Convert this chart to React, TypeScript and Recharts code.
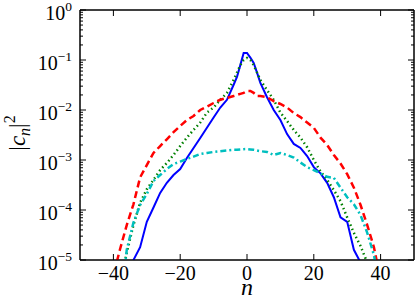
import React from 'react';
import { LineChart, Line, XAxis, YAxis, ReferenceArea } from 'recharts';

// n (mode index)
const nValues = [-42, -40, -38, -36, -34, -32, -30, -28, -26, -24, -22, -20, -18, -16, -14, -12, -10, -8, -6, -4, -3, -2, -1, 0, 1, 2, 3, 4, 6, 8, 10, 12, 14, 16, 18, 20, 22, 24, 26, 28, 30, 32, 34, 36, 38, 40, 42];

// |c_n|^2 series
const blueSolid = [null, null, null, 3.2e-6, 1.0e-5, 1.8e-5, 5.8e-5, 1.12e-4, 2.2e-4, 3.5e-4, 5.0e-4, 6.6e-4, 1.1e-3, 1.74e-3, 2.75e-3, 4.4e-3, 7.1e-3, 1.12e-2, 1.6e-2, 3.2e-2, 4.6e-2, 7.9e-2, 0.138, 0.138, 0.112, 0.087, 0.056, 0.035, 0.018, 0.010, 6.3e-3, 3.3e-3, 2.1e-3, 1.74e-3, 1.2e-3, 7.2e-4, 5.4e-4, 3.5e-4, 1.8e-4, 7.1e-5, 5.8e-5, 1.6e-5, 8.9e-6, 3.2e-6, null, null, null];
const greenDotted = [null, null, 3.2e-6, 1.4e-5, 5.0e-5, 1.4e-4, 2.6e-4, 4.0e-4, 6.3e-4, 8.7e-4, 1.26e-3, 1.9e-3, 2.8e-3, 4.0e-3, 5.6e-3, 8.9e-3, 1.12e-2, 1.6e-2, 2.2e-2, 4.0e-2, 5.6e-2, 7.9e-2, 0.100, 0.110, 0.100, 7.9e-2, 5.6e-2, 4.0e-2, 2.5e-2, 1.6e-2, 8.9e-3, 6.0e-3, 4.0e-3, 2.8e-3, 1.8e-3, 1.0e-3, 5.9e-4, 4.0e-4, 2.5e-4, 1.5e-4, 7.1e-5, 3.5e-5, 1.9e-5, 8.9e-6, 3.2e-6, null, null];
const redDashed = [1.3e-6, 5.0e-6, 1.66e-5, 5.0e-5, 1.3e-4, 4.5e-4, 7.9e-4, 1.38e-3, 1.9e-3, 2.6e-3, 3.6e-3, 4.8e-3, 6.3e-3, 7.6e-3, 1.0e-2, 1.17e-2, 1.38e-2, 1.6e-2, 1.74e-2, 1.9e-2, 2.0e-2, 2.1e-2, 2.2e-2, 2.4e-2, 2.4e-2, 2.2e-2, 1.9e-2, 1.9e-2, 1.8e-2, 1.5e-2, 1.32e-2, 1.12e-2, 8.7e-3, 7.2e-3, 5.6e-3, 4.4e-3, 2.8e-3, 2.0e-3, 1.26e-3, 8.5e-4, 5.2e-4, 2.8e-4, 1.26e-4, 5.0e-5, 1.8e-5, 4.0e-6, null];
const cyanDashDot = [null, null, 1.0e-6, 1.6e-5, 5.6e-5, 1.26e-4, 2.1e-4, 3.8e-4, 5.0e-4, 6.6e-4, 8.3e-4, 9.3e-4, 1.05e-3, 1.17e-3, 1.32e-3, 1.38e-3, 1.45e-3, 1.5e-3, 1.55e-3, 1.6e-3, 1.6e-3, 1.62e-3, 1.65e-3, 1.66e-3, 1.63e-3, 1.6e-3, 1.55e-3, 1.5e-3, 1.45e-3, 1.26e-3, 1.38e-3, 1.26e-3, 1.12e-3, 8.9e-4, 7.2e-4, 6.3e-4, 5.4e-4, 4.6e-4, 4.4e-4, 2.8e-4, 1.8e-4, 1.3e-4, 7.9e-5, 3.5e-5, 1.26e-5, 2.5e-6, null];

// ticks
const xTicks = [-40, -20, 0, 20, 40];
const xTickLabels = ['−40', '−20', '0', '20', '40'];
const yMajorTicks = [1e-5, 1e-4, 1e-3, 1e-2, 1e-1, 1];
const yExponents = ['−5', '−4', '−3', '−2', '−1', '0'];
const minorMantissas = [2, 3, 4, 5, 6, 7, 8, 9];
const minorDecades = [1e-5, 1e-4, 1e-3, 1e-2, 1e-1];

const data = nValues.map((n, i) => ({
  n,
  blue: blueSolid[i],
  green: greenDotted[i],
  red: redDashed[i],
  cyan: cyanDashDot[i],
}));
const minorTicks = minorDecades.flatMap((d) => minorMantissas.map((m) => m * d));
const allYTicks = [...yMajorTicks, ...minorTicks].sort((a, b) => a - b);

const FONT = "Liberation Serif";
const MAJOR = 6;
const MINOR = 3;

const majorIndex = (v: number) =>
  yMajorTicks.findIndex((t) => Math.abs(Math.log10(t) - Math.log10(v)) < 1e-6);

const YTickLeft = (props: any) => {
  const { x, y, payload } = props;
  const idx = majorIndex(payload.value);
  const len = idx >= 0 ? MAJOR : MINOR;
  return (
    <g>
      <line x1={x} x2={x + len} y1={y} y2={y} stroke="#000" strokeWidth={1} />
      {idx >= 0 && (
        <text x={x - 8} y={y + 9.5} textAnchor="end" fontFamily={FONT} style={{ fontFamily: FONT }} fontSize={20} fill="#000">
          10
          <tspan dy={-8.5} fontSize={13.5}>{yExponents[idx]}</tspan>
        </text>
      )}
    </g>
  );
};

const YTickRight = (props: any) => {
  const { x, y, payload } = props;
  const idx = majorIndex(payload.value);
  const len = idx >= 0 ? MAJOR : MINOR;
  return <line x1={x} x2={x - len} y1={y} y2={y} stroke="#000" strokeWidth={1} />;
};

const XTickBottom = (props: any) => {
  const { x, y, payload } = props;
  const idx = xTicks.indexOf(payload.value);
  const label = idx >= 0 ? xTickLabels[idx] : String(payload.value);
  return (
    <g>
      <line x1={x} x2={x} y1={y} y2={y - MAJOR} stroke="#000" strokeWidth={1} />
      <text x={x} y={y + 20} textAnchor="middle" fontFamily={FONT} style={{ fontFamily: FONT }} fontSize={20} fill="#000">
        {label}
      </text>
    </g>
  );
};

const XTickTop = (props: any) => {
  const { x, y } = props;
  return <line x1={x} x2={x} y1={y} y2={y + MAJOR} stroke="#000" strokeWidth={1} />;
};

const XLabel = (props: any) => {
  const vb = props.viewBox || {};
  const cx = vb.x + vb.width / 2;
  return (
    <text x={cx} y={295} textAnchor="middle" fontFamily={FONT} fontStyle="italic" style={{ fontFamily: FONT, fontStyle: 'italic' }} fontSize={24} fill="#000">
      n
    </text>
  );
};

const YLabel = () => {
  const cx = 25;
  const cy = 133;
  return (
    <text
      x={cx}
      y={cy}
      transform={`rotate(-90, ${cx}, ${cy})`}
      textAnchor="middle"
      fontFamily={FONT}
      style={{ fontFamily: FONT }}
      fontSize={23}
      fill="#000"
    >
      |<tspan fontStyle="italic">c</tspan>
      <tspan fontStyle="italic" fontSize={16} dy={5}>n</tspan>
      <tspan dy={-5}>|</tspan>
      <tspan fontSize={16} dy={-10}>2</tspan>
    </text>
  );
};

export default function App() {
  return (
    <div style={{ position: 'absolute', left: 0, top: 0, background: '#fff' }}>
      <LineChart
        width={415}
        height={299}
        data={data}
        margin={{ top: 9, right: 0, bottom: 0, left: 10 }}
      >
        <XAxis
          xAxisId="main"
          dataKey="n"
          type="number"
          domain={[-50, 50]}
          ticks={xTicks}
          interval={0}
          allowDataOverflow
          height={39}
          tickSize={0}
          tickMargin={0}
          tick={<XTickBottom />}
          axisLine={{ stroke: '#000', strokeWidth: 1 }}
          tickLine={false}
          label={<XLabel />}
        />
        <XAxis
          xAxisId="top"
          orientation="top"
          dataKey="n"
          type="number"
          domain={[-50, 50]}
          ticks={xTicks}
          interval={0}
          allowDataOverflow
          height={1}
          tickSize={0}
          tickMargin={0}
          tick={<XTickTop />}
          axisLine={{ stroke: '#000', strokeWidth: 1 }}
          tickLine={false}
        />
        <YAxis
          yAxisId="main"
          type="number"
          scale="log"
          domain={[1e-5, 1]}
          ticks={allYTicks}
          interval={0}
          allowDataOverflow
          width={70}
          tickSize={0}
          tickMargin={0}
          tick={<YTickLeft />}
          axisLine={{ stroke: '#000', strokeWidth: 1 }}
          tickLine={false}
          label={<YLabel />}
        />
        <YAxis
          yAxisId="right"
          orientation="right"
          type="number"
          scale="log"
          domain={[1e-5, 1]}
          ticks={allYTicks}
          interval={0}
          allowDataOverflow
          width={1}
          tickSize={0}
          tickMargin={0}
          tick={<YTickRight />}
          axisLine={{ stroke: '#000', strokeWidth: 1 }}
          tickLine={false}
        />
        <ReferenceArea
          xAxisId="main"
          yAxisId="main"
          x1={-50}
          x2={50}
          y1={1e-5}
          y2={1}
          fill="none"
          stroke="#000"
          strokeWidth={1}
          ifOverflow="visible"
        />
        <Line
          xAxisId="main"
          yAxisId="main"
          dataKey="blue"
          type="linear"
          stroke="#0000ff"
          strokeWidth={2}
          dot={false}
          activeDot={false}
          isAnimationActive={false}
        />
        <Line
          xAxisId="main"
          yAxisId="main"
          dataKey="green"
          type="linear"
          stroke="#008000"
          strokeWidth={2.5}
          strokeDasharray="1.5 3"
          dot={false}
          activeDot={false}
          isAnimationActive={false}
        />
        <Line
          xAxisId="main"
          yAxisId="main"
          dataKey="red"
          type="linear"
          stroke="#ff0000"
          strokeWidth={2.5}
          strokeDasharray="7 4"
          dot={false}
          activeDot={false}
          isAnimationActive={false}
        />
        <Line
          xAxisId="main"
          yAxisId="main"
          dataKey="cyan"
          type="linear"
          stroke="#00bfbf"
          strokeWidth={2.5}
          strokeDasharray="6 3 2 3"
          dot={false}
          activeDot={false}
          isAnimationActive={false}
        />
      </LineChart>
    </div>
  );
}
